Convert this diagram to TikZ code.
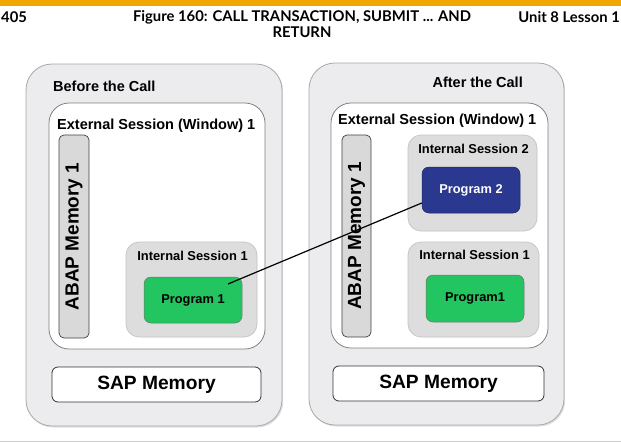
\documentclass[tikz,border=0pt]{standalone}
\usepackage{fontspec}
\setmainfont{Liberation Sans}
\newfontfamily\hdrfont{Lato}
\usetikzlibrary{shadows,calc}
\definecolor{barorange}{HTML}{F0A800}
\definecolor{panelfill}{HTML}{ECEBED}
\definecolor{panelline}{HTML}{A8A8A8}
\definecolor{extline}{HTML}{808080}
\definecolor{abapfill}{HTML}{D9D9D9}
\definecolor{isfill}{HTML}{DDDDDD}
\definecolor{isline}{HTML}{C4C4C4}
\definecolor{proggreen}{HTML}{22C55F}
\definecolor{prognavy}{HTML}{2B388F}
\definecolor{bottomline}{HTML}{CCCCCC}
\tikzset{
  hdr/.style={font=\hdrfont\bfseries\fontsize{14.8}{16}\selectfont, inner sep=0pt},
  panel/.style={draw=panelline, fill=panelfill, rounded corners=26pt, line width=0.8pt,
    drop shadow={opacity=0.25, shadow xshift=1.2pt, shadow yshift=-1.5pt}},
  extbox/.style={draw=extline, fill=white, rounded corners=20pt, line width=0.8pt},
  abapbar/.style={draw=black!75, fill=abapfill, rounded corners=5pt, line width=0.7pt},
  isbox/.style={draw=isline, fill=isfill, rounded corners=13pt, line width=0.7pt},
  greenprog/.style={draw=black!55, fill=proggreen, rounded corners=7pt, line width=0.5pt,
    font=\bfseries\fontsize{12.8}{14}\selectfont},
  navyprog/.style={draw=prognavy!70!black, fill=prognavy, rounded corners=7pt, line width=0.5pt,
    text=white, font=\bfseries\fontsize{12.8}{14}\selectfont},
  sapbox/.style={draw=black!80, fill=white, rounded corners=6pt, line width=0.8pt,
    font=\bfseries\fontsize{19.2}{21}\selectfont},
  lbl/.style={font=\bfseries\fontsize{14.5}{16}\selectfont, inner sep=0pt},
  islbl/.style={font=\bfseries\fontsize{12.9}{14}\selectfont, inner sep=0pt},
  abaplbl/.style={font=\bfseries\fontsize{19}{21}\selectfont, rotate=90, inner sep=0pt},
  link/.style={draw=black, line width=1.2pt}
}
\begin{document}
\begin{tikzpicture}[x=1pt, y=-1pt]
\useasboundingbox (0,0) rectangle (621,442);
\fill[white] (0,0) rectangle (621,442);
% top bar and header
\fill[barorange] (0,0) rectangle (621,6);
\node[hdr, anchor=west] (pg) at (1,17) {405};
\node[hdr, anchor=center, align=center] (ttl) at (302,24) {Figure 160: CALL TRANSACTION, SUBMIT ... AND\\RETURN};
\node[hdr, anchor=east] (unit) at (620,17) {Unit 8 Lesson 1};
\draw[bottomline, line width=1pt] (0,441) -- (621,441);

% ===== Left panel: Before the Call =====
\node[panel, minimum width=256pt, minimum height=362pt] (lpanel) at (154,245) {};
\node[lbl, anchor=west] (lbefore) at (53,86) {Before the Call};
\node[extbox, minimum width=216pt, minimum height=246pt] (lext) at (157,226) {};
\node[lbl, anchor=west] (lexttxt) at (57,126) {External Session (Window) 1};
\node[abapbar, minimum width=30pt, minimum height=203pt] (labap) at (74,236.5) {};
\node[abaplbl] (labaptxt) at (labap.center) {ABAP Memory 1};
\node[isbox, minimum width=131pt, minimum height=95pt] (lis1) at (191.5,289.5) {};
\node[islbl] (lis1txt) at (192.5,255.5) {Internal Session 1};
\node[greenprog, minimum width=98pt, minimum height=46pt] (lprog1) at (193,300) {Program 1};
\node[sapbox, minimum width=209pt, minimum height=35pt] (lsap) at (156.5,384.5) {SAP Memory};

% ===== Right panel: After the Call =====
\node[panel, minimum width=255pt, minimum height=362pt] (rpanel) at (436.5,244) {};
\node[lbl, anchor=east] (rafter) at (523,82) {After the Call};
\node[extbox, minimum width=217pt, minimum height=245pt] (rext) at (439.5,225.5) {};
\node[lbl, anchor=west] (rexttxt) at (338,121) {External Session (Window) 1};
\node[abapbar, minimum width=29pt, minimum height=202pt] (rabap) at (356.5,236) {};
\node[abaplbl] (rabaptxt) at (rabap.center) {ABAP Memory 1};
\node[isbox, minimum width=129pt, minimum height=96pt] (ris2) at (472.5,183) {};
\node[islbl] (ris2txt) at (473.5,149) {Internal Session 2};
\node[navyprog, minimum width=98pt, minimum height=46pt] (rprog2) at (471,190) {Program 2};
\node[isbox, minimum width=131pt, minimum height=95pt] (ris1) at (473.5,289.5) {};
\node[islbl] (ris1txt) at (474.5,254.5) {Internal Session 1};
\node[greenprog, minimum width=98pt, minimum height=47pt] (rprog1) at (475,298.5) {Program1};
\node[sapbox, minimum width=211pt, minimum height=35pt] (rsap) at (438.5,383.5) {SAP Memory};

% ===== connector =====
\coordinate (linkstart) at ($(lprog1.center)+(35,-16)$);
\coordinate (linkend) at ($(rprog2.west)+(0,13)$);
\draw[link] (linkstart) -- (linkend);
\end{tikzpicture}
\end{document}
